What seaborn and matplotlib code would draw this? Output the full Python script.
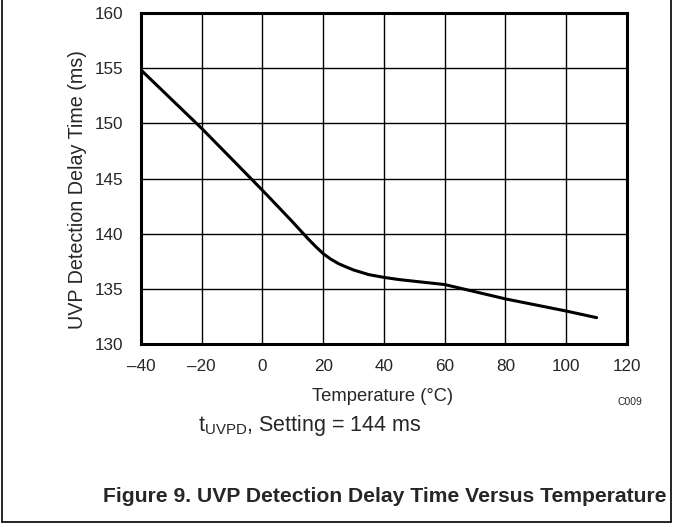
import matplotlib
matplotlib.use('Agg')
import matplotlib.pyplot as plt
import seaborn as sns
import pandas as pd
from matplotlib.lines import Line2D

# values
temperature = [-40, -30, -20, -10, 0, 5, 10, 15, 17.5, 20, 22.5, 25, 27.5, 30, 35,
               40, 45, 50, 55, 60, 70, 80, 90, 100, 110]
delay_ms = [154.85, 152.2, 149.55, 146.75, 143.94, 142.5, 141.05, 139.55, 138.85, 138.2,
            137.7, 137.3, 137.0, 136.72, 136.3, 136.05, 135.85, 135.7, 135.55, 135.4,
            134.75, 134.1, 133.55, 133.0, 132.4]
x_ticks = [-40, -20, 0, 20, 40, 60, 80, 100, 120]
y_ticks = [130, 135, 140, 145, 150, 155, 160]

sns.set_style('white')
plt.rcParams['font.family'] = ['Liberation Sans', 'DejaVu Sans']

df = pd.DataFrame({'temp': temperature, 'delay': delay_ms})

fig = plt.figure(figsize=(6.73, 5.27), dpi=100)
ax = fig.add_axes([0.2095, 0.3470, 0.7221, 0.6280])

sns.lineplot(data=df, x='temp', y='delay', color='black', linewidth=2.2, ax=ax)

ax.set_xlim(-40, 120)
ax.set_ylim(130, 160)
ax.set_xticks(x_ticks)
ax.set_yticks(y_ticks)
ax.set_xticklabels([str(t).replace('-', '\u2013') for t in x_ticks], fontsize=12.3)
ax.set_yticklabels([str(t) for t in y_ticks], fontsize=12.3)
ax.tick_params(axis='x', length=0, pad=11)
ax.tick_params(axis='y', length=0, pad=12.5)
ax.grid(True, color='black', linewidth=1.0)
for s in ax.spines.values():
    s.set_color('black')
    s.set_linewidth(2.2)

ax.set_xlabel('Temperature (\u00b0C)', fontsize=13.2, va='center')
ax.xaxis.set_label_coords(0.498, -0.157)
ax.set_ylabel('UVP Detection Delay Time (ms)', fontsize=14.2, va='center')
ax.yaxis.set_label_coords(-0.131, 0.467)

fig.text(0.936, 0.237, 'C009', fontsize=7.5, ha='center', va='center')
fig.text(0.294, 0.192, r't$_{\mathregular{UVPD}}$, Setting = 144 ms', fontsize=15.5, ha='left', va='center')
fig.text(0.991, 0.058, 'Figure 9. UVP Detection Delay Time Versus Temperature',
         fontsize=15.2, fontweight='bold', ha='right', va='center')

# outer frame
fig.add_artist(Line2D([0.003, 0.003], [0.009, 1.0], color='black', linewidth=1.2, transform=fig.transFigure))
fig.add_artist(Line2D([0.997, 0.997], [0.009, 1.0], color='black', linewidth=1.2, transform=fig.transFigure))
fig.add_artist(Line2D([0.003, 0.997], [0.009, 0.009], color='black', linewidth=1.2, transform=fig.transFigure))

fig.savefig('out.png', dpi=100)
